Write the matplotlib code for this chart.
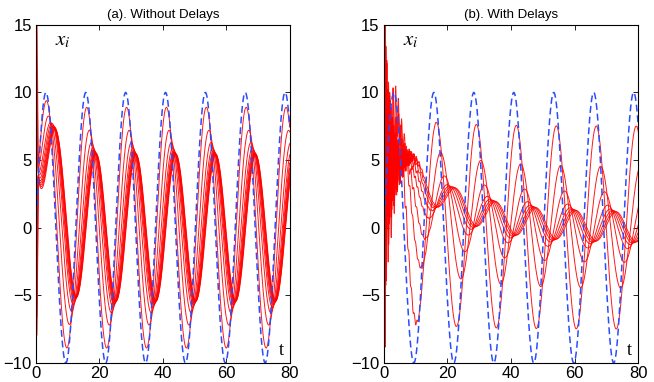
import numpy as np
import matplotlib
matplotlib.use("Agg")
import matplotlib.pyplot as plt

# leader (blue dashed): amplitude and period
LEADER_AMP = 10.0
LEADER_PERIOD = 4 * np.pi
T_END = 80

# (a) without delays: follower amplitude, phase lag (time units), initial value
AMP_A = [8.9, 7.2, 6.3, 5.9, 5.7, 5.6, 5.5, 5.5, 5.45, 5.4]
LAG_A = [0.3, 1.1, 1.8, 2.3, 2.6, 2.8, 2.95, 3.1, 3.2, 3.3]
X0_A = [15.0, 12.0, 9.0, 6.0, 3.0, 0.0, -2.0, -4.0, -6.0, -7.3]
TAU_A = [1.5, 2.0, 2.5, 3.0, 3.2, 3.3, 3.4, 3.5, 3.5, 3.5]
SETTLE_A = 4.2          # level the followers jump to right after t=0

# (b) with delays: amplitude, lag, slowly decaying bias, initial ringing
AMP_B = [7.5, 4.5, 2.6, 1.6, 1.3, 1.2, 1.15, 1.1]
LAG_B = [0.8, 2.2, 3.4, 4.4, 5.2, 5.9, 6.5, 7.0]
BIAS_B = [0.8, 3.2, 4.0, 5.5, 6.5, 7.0, 7.3, 7.5]
X0_B = [-7.3, 2.0, 6.0, 9.0, 11.0, 4.0, 13.0, 15.0]
RING_AMP_B = [7.5, 7.0, 8.5, 6.5, 9.0, 7.0, 8.0, 7.5]
RING_FREQ_B = [7.5, 7.0, 6.6, 8.0, 7.2, 6.2, 7.8, 6.8]
RING_PHASE_B = [-1.1, 0.4, 2.0, -2.5, 1.0, -0.3, 2.8, 1.57]
RING_MEAN_B = [1.5, 2.5, 2.0, 1.5, 1.0, 0.5, 0.0, 0.0]
BIAS_TAU_B = 16.0
RING_TAU_B = 2.8

XTICKS = [0, 20, 40, 60, 80]
YTICKS = [-10, -5, 0, 5, 10, 15]
TITLES = ["(a). Without Delays", "(b). With Delays"]

RED = "#ff0000"
BLUE = "#2a4dff"

plt.rcParams["mathtext.fontset"] = "stix"

t = np.linspace(0, T_END, 8001)
w = 2 * np.pi / LEADER_PERIOD
leader = LEADER_AMP * np.sin(w * t)
hold = np.exp(-(t / 0.55) ** 6)   # initial values held for a blink, then released


def followers_a():
    out = []
    for A, L, x0, tau in zip(AMP_A, LAG_A, X0_A, TAU_A):
        steady = A * np.sin(w * (t - L))
        d = (SETTLE_A - A * np.sin(w * (0.5 - L))) * np.exp(0.5 / tau)
        y = steady + d * np.exp(-t / tau)
        out.append(y + (x0 - y[0]) * hold)
    return out


def followers_b():
    out = []
    for A, L, B, x0, K, Om, ph, M in zip(AMP_B, LAG_B, BIAS_B, X0_B, RING_AMP_B,
                                         RING_FREQ_B, RING_PHASE_B, RING_MEAN_B):
        steady = A * np.sin(w * (t - L))
        bias = B * np.exp(-t / BIAS_TAU_B)
        ring = np.exp(-t / RING_TAU_B) * (M + K * np.sin(Om * t + ph))
        y = steady + bias + ring
        out.append(y + (x0 - y[0]) * hold)
    return out


fig = plt.figure(figsize=(6.54, 3.82), dpi=100)
fig.patch.set_facecolor("white")
ax_a = fig.add_axes([0.055, 0.050, 0.388, 0.885])
ax_b = fig.add_axes([0.587, 0.050, 0.389, 0.885])

for ax, curves, title in [(ax_a, followers_a(), TITLES[0]),
                          (ax_b, followers_b(), TITLES[1])]:
    for y in curves:
        ax.plot(t, y, color=RED, lw=0.7, alpha=0.9)
    ax.plot(t, leader, color=BLUE, lw=1.1, dashes=(4.5, 2.5))
    ax.set_xlim(0, T_END)
    ax.set_ylim(-10, 15)
    ax.set_xticks(XTICKS)
    ax.set_yticks(YTICKS)
    ax.set_xticklabels([str(v) for v in XTICKS], family="Liberation Sans", fontsize=12)
    ax.set_yticklabels(["\u221210" if v == -10 else ("\u22125" if v == -5 else str(v))
                        for v in YTICKS], family="Liberation Sans", fontsize=12)
    ax.tick_params(direction="in", length=3.5, width=0.6, top=True, right=True)
    ax.tick_params(axis="x", pad=2.5)
    ax.tick_params(axis="y", pad=3)
    for s in ax.spines.values():
        s.set_linewidth(0.8)
    ax.set_title(title, family="Liberation Sans", fontsize=9.5, pad=5)
    ax.text(6.0, 13.9, r"$x_i$", fontsize=15, ha="left", va="center")
    ax.text(76.5, -9.1, "t", family="Liberation Serif", fontsize=13, ha="left", va="center")

plt.savefig("out.png", dpi=100, facecolor="white")
